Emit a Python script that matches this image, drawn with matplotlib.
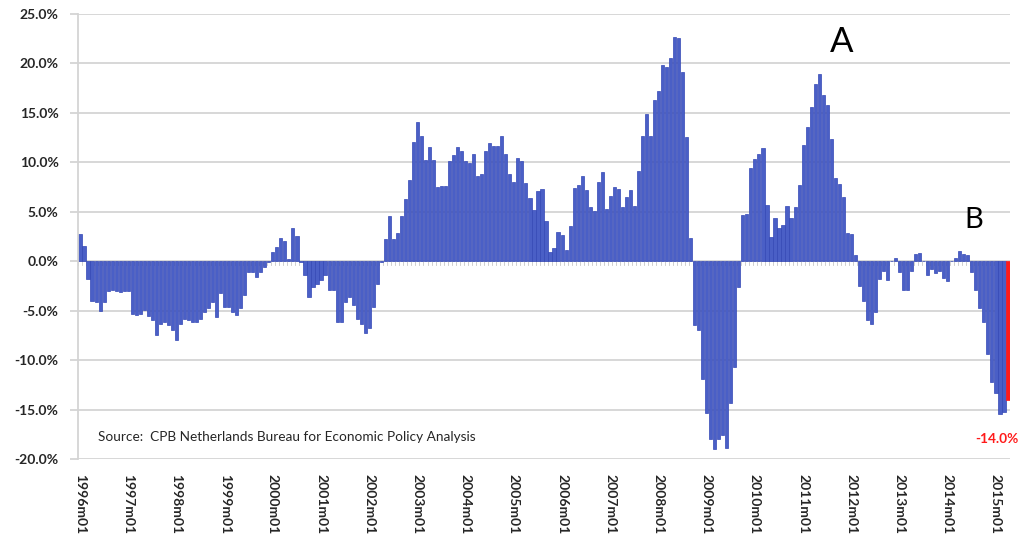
import matplotlib
matplotlib.use("Agg")
import matplotlib.pyplot as plt
import numpy as np

# ---- data -------------------------------------------------------------
start_year = 1996
end_year = 2015
end_month = 4

values = [
    # 1996
    2.8, 1.5, -1.8, -4.0, -4.1, -5.0, -4.1, -3.0, -2.9, -3.0, -3.1, -3.0,
    # 1997
    -3.0, -5.3, -5.4, -5.3, -4.9, -5.5, -5.9, -7.5, -6.3, -6.1, -6.4, -7.0,
    # 1998
    -8.0, -6.3, -5.8, -5.9, -6.1, -6.1, -5.8, -5.1, -4.7, -4.1, -5.6, -3.2,
    # 1999
    -4.6, -4.6, -5.1, -5.4, -4.7, -3.4, -1.1, -1.1, -1.6, -1.1, -0.6, -0.1,
    # 2000
    0.9, 1.4, 2.3, 2.0, 0.2, 3.4, 2.5, -0.1, -1.4, -3.6, -2.6, -2.3,
    # 2001
    -1.9, -1.4, -2.9, -2.9, -6.1, -6.1, -4.1, -3.6, -4.4, -5.8, -6.3, -7.3,
    # 2002
    -6.8, -4.6, -2.3, -0.1, 2.2, 4.6, 2.2, 2.9, 4.6, 6.3, 8.2, 12.1,
    # 2003
    14.1, 12.7, 10.2, 11.5, 10.2, 7.5, 7.6, 7.6, 10.1, 10.7, 11.5, 11.1,
    # 2004
    10.1, 9.9, 10.8, 8.6, 8.8, 11.1, 12.0, 11.7, 11.7, 12.7, 10.8, 8.8,
    # 2005
    8.0, 10.4, 10.1, 7.9, 6.4, 5.2, 7.1, 7.3, 4.1, 0.9, 1.3, 3.0,
    # 2006
    2.7, 1.1, 3.6, 7.4, 7.7, 8.6, 7.2, 5.5, 5.1, 8.0, 9.0, 5.3,
    # 2007
    6.6, 7.5, 7.3, 5.5, 6.5, 7.2, 5.6, 9.1, 12.7, 14.9, 12.7, 16.3,
    # 2008
    17.2, 19.8, 19.6, 20.6, 22.7, 22.6, 19.1, 12.6, 2.3, -6.4, -7.0, -11.9,
    # 2009
    -15.3, -18.0, -19.0, -18.0, -17.6, -18.9, -14.3, -10.7, -2.6, 4.7, 4.8, 9.4,
    # 2010
    10.3, 10.8, 11.4, 5.7, 2.4, 4.4, 3.4, 3.7, 5.6, 4.4, 5.5, 7.7,
    # 2011
    11.8, 13.6, 15.6, 17.9, 18.9, 16.8, 15.8, 12.4, 8.4, 7.8, 6.5, 2.9,
    # 2012
    2.8, 0.6, -2.5, -4.0, -5.9, -6.3, -5.1, -1.8, -1.0, -1.9, 0.0, 0.3,
    # 2013
    -1.1, -2.9, -2.9, -1.0, 0.7, 0.8, 0.0, -1.4, -0.8, -1.2, -1.0, -1.7,
    # 2014
    -2.0, 0.0, 0.3, 1.0, 0.7, 0.6, -1.1, -2.9, -4.7, -6.1, -9.4, -12.2,
    # 2015
    -13.3, -15.5, -15.2, -14.0,
]

year_labels = [f"{y}m01" for y in range(start_year, end_year + 1)]
y_ticks = [-20, -15, -10, -5, 0, 5, 10, 15, 20, 25]
source_text = "Source:  CPB Netherlands Bureau for Economic Policy Analysis"
last_label = "-14.0%"

# ---- figure -----------------------------------------------------------
W, H = 1023, 543
fig = plt.figure(figsize=(W / 100, H / 100), dpi=100)
ax = fig.add_axes([78 / W, 1 - 459 / H, (1010 - 78) / W, (459 - 14) / H])

n = len(values)
x = np.arange(n)
vals = np.array(values)
blue = "#4a5fc6"
edge = "#3347b5"
colors = [blue] * (n - 1) + ["#ff1a1a"]
edges = [edge] * (n - 1) + ["#ff1a1a"]

ax.set_xlim(-0.5, n - 0.5)
ax.set_ylim(-20, 25)

grid_c = "#d4d4d4"
for yv in y_ticks:
    ax.axhline(yv, color=grid_c, lw=1.3, zorder=0)

# small category ticks under the zero line
for i in range(n + 1):
    ax.plot([i - 0.5, i - 0.5], [0, -0.35], color="#c8c8c8", lw=0.6, zorder=0.5)

ax.bar(x, vals, width=0.78, color=colors, edgecolor=edges, linewidth=0.5, zorder=2)

for s in ["top", "right", "bottom"]:
    ax.spines[s].set_visible(False)
ax.spines["left"].set_color(grid_c)
ax.spines["left"].set_linewidth(1.3)

font = ["Lato", "DejaVu Sans"]
ax.set_yticks(y_ticks)
ax.set_yticklabels([f"{v:.1f}%" for v in y_ticks], fontsize=10,
                   fontweight="bold", color="#262626", family=font)
ax.tick_params(axis="y", length=6, width=1.3, color=grid_c, pad=8)

ax.set_xticks(np.arange(0, n, 12))
ax.set_xticklabels(year_labels, rotation=-90, fontsize=10, fontweight="bold",
                   color="#262626", family=font, va="top", ha="center")
ax.tick_params(axis="x", length=0, pad=11)

ax.text(4.5, -17.8, source_text, fontsize=9.8, color="#262626",
        family=font, va="center", ha="left")
ax.text(n - 1 + 2.5, -18.0, last_label, fontsize=9.8, color="#ff1a1a",
        fontweight="bold", family=font, va="center", ha="right")
ax.text(189.5, 22.2, "A", fontsize=25, color="black", family=font,
        va="center", ha="center")
ax.text(222.5, 4.2, "B", fontsize=21, color="black", family=font,
        va="center", ha="center")

fig.savefig("out.png", dpi=100)
